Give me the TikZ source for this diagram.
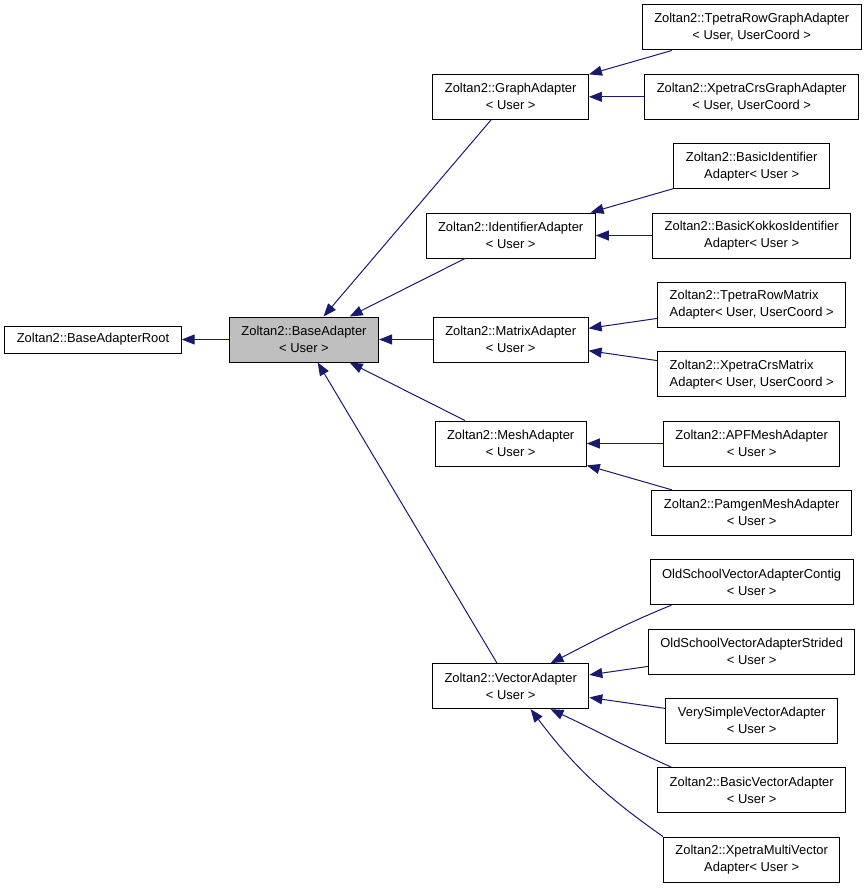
\documentclass[tikz,border=0pt]{standalone}
\usepackage{fontspec}
\setmainfont{Liberation Sans}
\usetikzlibrary{arrows.meta}
\definecolor{edgeblue}{HTML}{191970}
\definecolor{basegray}{HTML}{BFBFBF}
\tikzset{
block/.style = {draw, fill=white, rectangle, align=center, line width=0.75pt, inner xsep=9pt, inner ysep=0pt, minimum height=33.75pt, font=\fontsize{9.7}{12.75}\selectfont},
rootblock/.style = {block, minimum height=20.25pt},
mainblock/.style = {block, fill=basegray},
inherit/.style = {draw=edgeblue, line width=0.75pt, ->}
}

\begin{document}
\begin{tikzpicture}[x=0.75pt, y=-0.75pt, node distance=52pt, >={Triangle[length=9.75pt,width=7.5pt]}]
  \useasboundingbox (0,0) rectangle (867,888);

  \node [rootblock] at (93,339.5)                                 (root)         {Zoltan2::BaseAdapterRoot};
  \node [mainblock, right of=root, node distance=158.25pt]        (base)         {Zoltan2::BaseAdapter\\< User >};
  \node [block, right of=base, node distance=155pt]               (matrix)       {Zoltan2::MatrixAdapter\\< User >};

  % right column
  \node [block, align=left, right of=matrix, node distance=180.75pt, yshift=26pt] (tpetramatrix) {Zoltan2::TpetraRowMatrix\\Adapter< User, UserCoord >};
  \node [block, align=left, below of=tpetramatrix]                (xpetramatrix) {Zoltan2::XpetraCrsMatrix\\Adapter< User, UserCoord >};
  \node [block, below of=xpetramatrix]                            (apf)          {Zoltan2::APFMeshAdapter\\< User >};
  \node [block, below of=apf]                                     (pamgen)       {Zoltan2::PamgenMeshAdapter\\< User >};
  \node [block, below of=pamgen]                                  (contig)       {OldSchoolVectorAdapterContig\\< User >};
  \node [block, below of=contig]                                  (strided)      {OldSchoolVectorAdapterStrided\\< User >};
  \node [block, below of=strided]                                 (verysimple)   {VerySimpleVectorAdapter\\< User >};
  \node [block, below of=verysimple]                              (basicvector)  {Zoltan2::BasicVectorAdapter\\< User >};
  \node [block, below of=basicvector]                             (xpetramulti)  {Zoltan2::XpetraMultiVector\\Adapter< User >};
  \node [block, above of=tpetramatrix]                            (kokkos)       {Zoltan2::BasicKokkosIdentifier\\Adapter< User >};
  \node [block, above of=kokkos]                                  (basicident)   {Zoltan2::BasicIdentifier\\Adapter< User >};
  \node [block, above of=basicident]                              (xpetragraph)  {Zoltan2::XpetraCrsGraphAdapter\\< User, UserCoord >};
  \node [block, above of=xpetragraph]                             (tpetragraph)  {Zoltan2::TpetraRowGraphAdapter\\< User, UserCoord >};

  % middle column
  \node [block, left of=xpetragraph, node distance=180.75pt]      (graph)        {Zoltan2::GraphAdapter\\< User >};
  \node [block, left of=kokkos, node distance=180.75pt]           (ident)        {Zoltan2::IdentifierAdapter\\< User >};
  \node [block, left of=apf, node distance=180.75pt]              (mesh)         {Zoltan2::MeshAdapter\\< User >};
  \node [block, left of=strided, node distance=180.75pt, yshift=-26pt] (vector) {Zoltan2::VectorAdapter\\< User >};

  \draw [inherit] (base) -- (root);
  \draw [inherit] (graph) -- (base);
  \draw [inherit] (ident) -- (base);
  \draw [inherit] (matrix) -- (base);
  \draw [inherit] (mesh) -- (base);
  \draw [inherit] (vector) -- (base);

  \draw [inherit] (tpetragraph) -- (graph);
  \draw [inherit] (xpetragraph) -- (graph);
  \draw [inherit] (basicident) -- (ident);
  \draw [inherit] (kokkos) -- (ident);
  \draw [inherit] (tpetramatrix) -- (matrix);
  \draw [inherit] (xpetramatrix) -- (matrix);
  \draw [inherit] (apf) -- (mesh);
  \draw [inherit] (pamgen) -- (mesh);

  \draw [inherit] (contig.196) to[out=202, in=27] (vector.30);
  \draw [inherit] (strided) -- (vector);
  \draw [inherit] (verysimple) -- (vector);
  \draw [inherit] (basicvector.164) to[out=156, in=335] (vector.330);
  \draw [inherit] (xpetramulti.north west) to[out=145, in=307] (vector.311);
\end{tikzpicture}
\end{document}
